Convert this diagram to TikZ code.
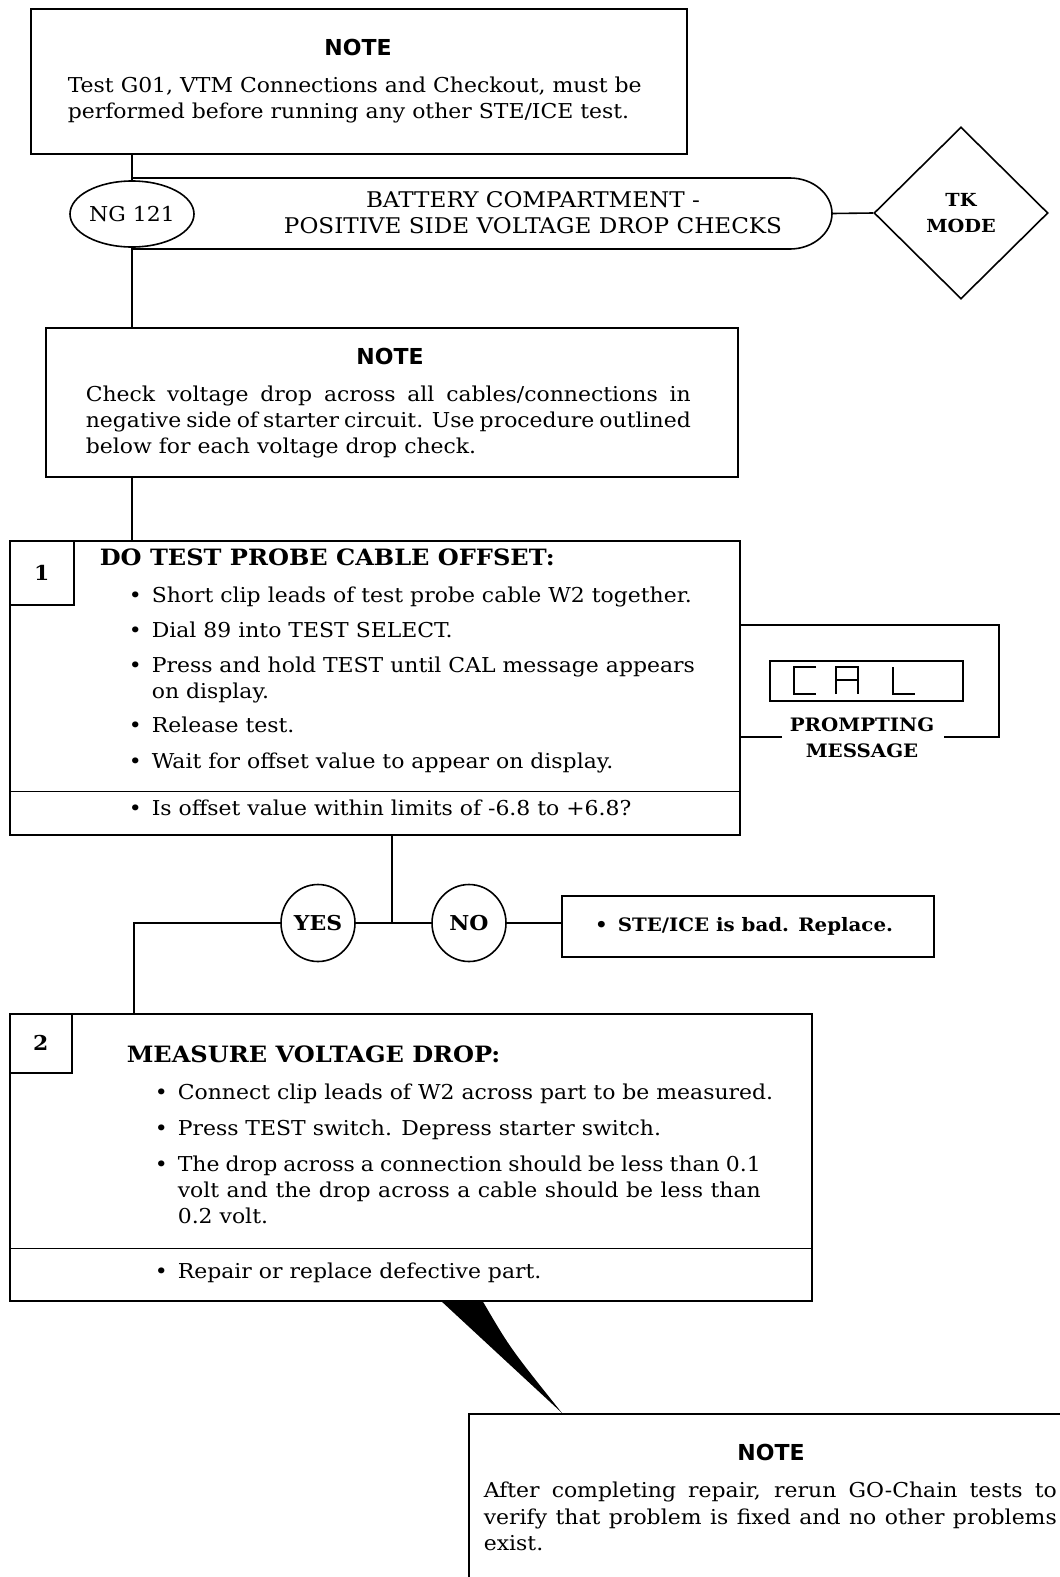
\documentclass[tikz,border=0pt]{standalone}
\usepackage{fontspec}
\setmainfont{DejaVu Serif}[FakeStretch=1.07]
\newfontfamily\notefont{DejaVu Sans}
\usetikzlibrary{shapes.geometric}

\newcommand{\blt}{\makebox[0pt][r]{\textbullet\hspace{10pt}}}
\newcommand{\bodyfont}{\fontsize{20.5}{26}\selectfont}

\tikzset{
  box/.style={draw, rectangle, anchor=north west, inner sep=0pt},
  ln/.style={anchor=base west, inner sep=0pt},
  bd/.style={font=\bodyfont\bfseries},
  stephd/.style={ln, font=\fontsize{22.5}{26}\selectfont\bfseries},
  hd/.style={inner sep=0pt, font=\notefont\bfseries\fontsize{22}{26}\selectfont},
  bub/.style={draw, ellipse, fill=white, inner sep=0pt},
}

\begin{document}
\begin{tikzpicture}[x=1pt, y=-1pt, line width=1.6pt, font=\bodyfont]
    \clip (0,0) rectangle (1060,1577);

    % First note
    \node[box, minimum width=656pt, minimum height=145pt] (notea) at (30,8) {};
    \node[hd] (noteahd) at (358,47) {NOTE};
    \node[ln] (notea1) at (67,92) {Test G01, VTM Connections and Checkout, must be};
    \node[ln] (notea2) at (67,118) {performed before running any other STE/ICE test.};

    % Title band, NG 121 and TK mode
    \draw (132,178) -- (790,178) .. controls (813,178) and (832,194) .. (832,213.5)
        .. controls (832,233) and (813,249) .. (790,249) -- (132,249);
    \coordinate (bandend) at (832,213.5);
    \node[bub, minimum width=124pt, minimum height=66pt] (ng) at (132,214) {NG 121};
    \node[anchor=base, inner sep=0pt, font=\fontsize{21.6}{26}\selectfont] (title1) at (533,207) {BATTERY COMPARTMENT -};
    \node[anchor=base, inner sep=0pt, font=\fontsize{21.6}{26}\selectfont] (title2) at (533,233) {POSITIVE SIDE VOLTAGE DROP CHECKS};
    \node[draw, diamond, minimum width=174pt, minimum height=172pt, inner sep=0pt,
        align=center, font=\fontsize{18}{26}\selectfont\bfseries] (tk) at (961,213) {TK\\MODE};
    \draw (bandend) -- (tk.west);
    \draw (ng.north) -- (ng.north |- notea.south);

    % Second note
    \node[box, minimum width=692pt, minimum height=149pt] (noteb) at (45,327) {};
    \node[hd] (notebhd) at (390,356) {NOTE};
    \node[ln] (noteb1) at (85,401) {\makebox[605pt][s]{Check voltage drop across all cables/connections in}};
    \node[ln] (noteb2) at (85,427) {\makebox[605pt][s]{negative side of starter circuit. Use procedure outlined}};
    \node[ln] (noteb3) at (85,453) {below for each voltage drop check.};
    \draw (ng.south) -- (ng.south |- noteb.north);

    % Step 1
    \node[box, minimum width=730pt, minimum height=294pt] (stepa) at (9,540) {};
    \node[box, minimum width=64pt, minimum height=64pt] (numa) at (9,540) {};
    \node[bd] (numatxt) at (numa.center) {1};
    \draw ([yshift=44pt]stepa.south west) -- ([yshift=44pt]stepa.south east);
    \draw (noteb.south -| ng) -- (stepa.north -| ng);
    \node[stephd] (stepahd) at (99,565) {DO TEST PROBE CABLE OFFSET:};
    \node[ln] (stepa1) at (151,602) {\blt Short clip leads of test probe cable W2 together.};
    \node[ln] (stepa2) at (151,637) {\blt Dial 89 into TEST SELECT.};
    \node[ln] (stepa3) at (151,672) {\blt Press and hold TEST until CAL message appears};
    \node[ln] (stepa4) at (151,698) {on display.};
    \node[ln] (stepa5) at (151,732) {\blt Release test.};
    \node[ln] (stepa6) at (151,768) {\blt Wait for offset value to appear on display.};
    \node[ln] (stepaq) at (151,815) {\blt Is offset value within limits of -6.8 to +6.8?};

    % Prompting message
    \node[draw, minimum width=193pt, minimum height=40pt, inner sep=0pt] (cal) at (866.5,681) {};
    \draw[line width=1.2pt] (816,667) -- (794,667) -- (794,694) -- (816,694)
        (836,694) -- (836,667) -- (858,667) -- (858,694) (836,680) -- (858,680)
        (893,667) -- (893,694) -- (915,694);
    \node[anchor=base, inner sep=0pt, font=\fontsize{18.5}{26}\selectfont\bfseries] (prompt1) at (862,731) {PROMPTING};
    \node[anchor=base, inner sep=0pt, font=\fontsize{18.5}{26}\selectfont\bfseries] (prompt2) at (862,757) {MESSAGE};
    \draw ([yshift=-85pt]stepa.north east) -- (999,625) -- (999,737) -- (944,737);
    \draw (782,737) -- ([yshift=-197pt]stepa.north east);

    % Yes / No
    \coordinate (jn) at (392,923);
    \coordinate (bend) at (134,923);
    \node[bub, minimum width=74pt, minimum height=77pt, bd] (yes) at (318,923) {YES};
    \node[bub, minimum width=74pt, minimum height=77pt, bd] (no) at (469,923) {NO};
    \node[box, minimum width=372pt, minimum height=61pt] (bad) at (561,895) {};
    \node[ln, font=\fontsize{18.5}{26}\selectfont\bfseries] (badtxt) at (617,931) {\blt STE/ICE is bad. Replace.};
    \draw (jn |- stepa.south) -- (jn);
    \draw (yes) -- (no);
    \draw (no) -- (no -| bad.west);

    % Step 2
    \node[box, minimum width=802pt, minimum height=287pt] (stepb) at (9,1013) {};
    \node[box, minimum width=62pt, minimum height=59pt] (numb) at (9,1013) {};
    \node[bd] (numbtxt) at (numb.center) {2};
    \draw ([yshift=53pt]stepb.south west) -- ([yshift=53pt]stepb.south east);
    \draw (yes) -- (bend) -- (bend |- stepb.north);
    \node[stephd] (stepbhd) at (126,1062) {MEASURE VOLTAGE DROP:};
    \node[ln] (stepb1) at (177,1099) {\blt Connect clip leads of W2 across part to be measured.};
    \node[ln] (stepb2) at (177,1135) {\blt Press TEST switch. Depress starter switch.};
    \node[ln] (stepb3) at (177,1171) {\blt\makebox[583pt][s]{The drop across a connection should be less than 0.1}};
    \node[ln] (stepb4) at (177,1197) {\makebox[583pt][s]{volt and the drop across a cable should be less than}};
    \node[ln] (stepb5) at (177,1223) {0.2 volt.};
    \node[ln] (stepbq) at (177,1278) {\blt Repair or replace defective part.};

    % Callout to last note
    \node[box, minimum width=700pt, minimum height=300pt] (notec) at (468,1413) {};
    \fill (440,1300) -- (482,1300) .. controls (510,1348) .. (562,1413) -- cycle;
    \node[hd] (notechd) at (771,1452) {NOTE};
    \node[ln] (notec1) at (483,1497) {\makebox[573pt][s]{After completing repair, rerun GO-Chain tests to}};
    \node[ln] (notec2) at (483,1524) {\makebox[573pt][s]{verify that problem is fixed and no other problems}};
    \node[ln] (notec3) at (483,1550) {exist.};
\end{tikzpicture}
\end{document}
